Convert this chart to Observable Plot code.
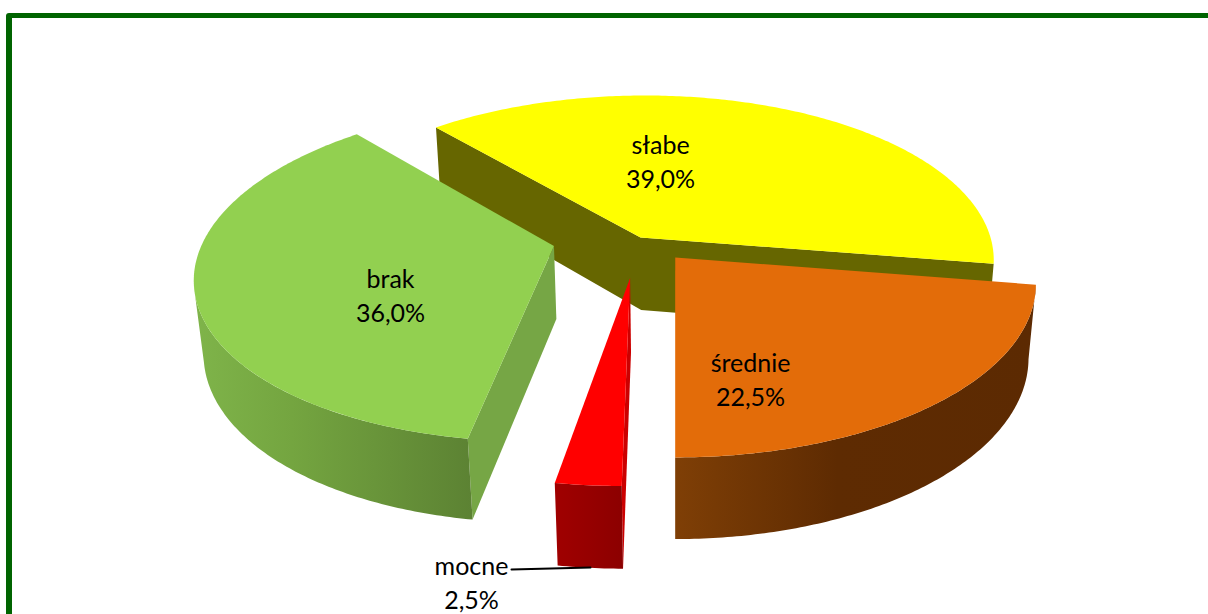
<!DOCTYPE html>
<html lang="pl">
<head>
<meta charset="utf-8">
<script src="https://cdn.jsdelivr.net/npm/d3@7"></script>
<script src="https://cdn.jsdelivr.net/npm/@observablehq/plot@0.6"></script>
<style>
  html, body { margin: 0; padding: 0; width: 1208px; height: 614px; overflow: hidden; background: #fff; }
  #frame { position: absolute; left: 6px; top: 13px; width: 1400px; height: 800px; border: 5.5px solid #006400; border-left-width: 6px; border-radius: 3px; }
  #chart { position: absolute; left: 0; top: 0; }
  svg { display: block; background: transparent !important; }
</style>
</head>
<body>
<div id="frame"></div>
<div id="chart"></div>
<script>
// Data
const names = ["słabe", "średnie", "mocne", "brak"];
const shares = [39.0, 22.5, 2.5, 36.0];

// Pie layout: explosion of each slice, in pie radii, and its direction in degrees
const explode = [0, 0.156, 0.24, 0.25];
const explodeDir = [0, 140.5, 186, 258];
const startAngle = -41.4;
const centerU = -0.1;
const perspective = 0.15, thickness = 0.453, depthShift = 0.02;
const greenSilhouette = 256;

// Styles
const topColors = ["#FFFF00", "#E36C09", "#FF0000", "#92D050"];
const wallColors = ["#666600", "#5C2A02", "#CC0000", "#76A645"];
const rimColors = ["#666600", "url(#rimOrange)", "url(#rimRed)", "url(#rimGreen)"];
const labelX = [660, 750, 471, 390];
const labelY = [160, 378, 581, 294];
const leaderX = [511, 590];
const leaderY = [569, 567];

// Plot scales: one unit = one pie radius (x) / projected radius (y)
const W = 1208, H = 614, originX = 675, originY = 237, unitX = 350, unitY = 163.3;
const toX = px => (px - originX) / unitX;
const toY = py => (py - originY) / unitY;

const rad = a => a * Math.PI / 180;
function project(U, V, low) {
  const w = 1 + perspective * V + (low ? depthShift : 0);
  return {x: U / w, y: (-V + (low ? thickness : 0)) / w};
}
function arc(s, a, b) {
  const n = Math.max(2, Math.ceil(Math.abs(b - a) * 1.5));
  return d3.range(n + 1).map(i => {
    const t = rad(a + (b - a) * i / n);
    return [s.U + Math.sin(t), s.V + Math.cos(t)];
  });
}

// Slice geometry from the shares
let acc = startAngle;
const slices = shares.map((v, i) => {
  const a = acc, b = acc + v * 3.6;
  acc = b;
  const dir = rad(explodeDir[i]);
  return {i, a, b, U: centerU + explode[i] * Math.sin(dir), V: explode[i] * Math.cos(dir)};
});

const face = (pts, fill) => Plot.line(pts, {x: "x", y: "y", fill, stroke: "none"});
const topFace = s => [[s.U, s.V], ...arc(s, s.a, s.b)].map(p => project(p[0], p[1], false));
const radialWall = (s, ang) => {
  const e = arc(s, ang, ang)[0];
  return [project(s.U, s.V, false), project(e[0], e[1], false), project(e[0], e[1], true), project(s.U, s.V, true)];
};
// Both cut faces of one slice, as a single outline
const cutWalls = s => {
  const l = arc(s, s.a, s.a)[0], r = arc(s, s.b, s.b)[0];
  return [project(l[0], l[1], false), project(s.U, s.V, false), project(r[0], r[1], false),
          project(r[0], r[1], true), project(s.U, s.V, true), project(l[0], l[1], true)];
};
const rimWall = (s, a, b) => {
  const pts = arc(s, a, b);
  return [...pts.map(p => project(p[0], p[1], false)), ...pts.slice().reverse().map(p => project(p[0], p[1], true))];
};

const [yellow, orange, red, green] = slices;
const gradient = (id, stops) =>
  `<linearGradient id="${id}" x1="0" x2="1" y1="0" y2="0">` +
  stops.map(([o, c]) => `<stop offset="${o}" stop-color="${c}"/>`).join("") + `</linearGradient>`;

const marks = [
  () => d3.create("svg:defs").html(
    gradient("rimGreen", [[0, "#7FB44A"], [0.35, "#74A540"], [1, "#5C8233"]]) +
    gradient("rimOrange", [[0, "#7F3F06"], [0.45, "#5E2B02"], [1, "#5C2A02"]]) +
    gradient("rimRed", [[0, "#A00000"], [1, "#8C0000"]])
  ).node(),
  // słabe
  face(cutWalls(yellow), wallColors[0]),
  face(topFace(yellow), topColors[0]),
  // średnie
  face(rimWall(orange, orange.a, orange.b), rimColors[1]),
  face(topFace(orange), topColors[1]),
  // mocne
  face(radialWall(red, red.a), wallColors[2]),
  face(rimWall(red, red.a, red.b), rimColors[2]),
  face(topFace(red), topColors[2]),
  // brak
  face(radialWall(green, green.a), wallColors[3]),
  face(rimWall(green, green.a, greenSilhouette), rimColors[3]),
  face(topFace(green), topColors[3]),
  // leader and labels
  Plot.line(leaderX.map((x, i) => ({x: toX(x), y: toY(leaderY[i])})), {x: "x", y: "y", stroke: "#000", strokeWidth: 2}),
  Plot.text(names.map((n, i) => ({
    text: `${n}\n${shares[i].toFixed(1).replace(".", ",")}%`,
    x: toX(labelX[i]), y: toY(labelY[i])
  })), {x: "x", y: "y", text: "text", fontSize: 25, lineHeight: 1.34, fill: "#000", fontFamily: "Lato"})
];

const chart = Plot.plot({
  width: W, height: H,
  marginTop: 0, marginRight: 0, marginBottom: 0, marginLeft: 0,
  x: {domain: [toX(0), toX(W)], range: [0, W], axis: null},
  y: {domain: [toY(0), toY(H)], range: [0, H], axis: null},
  marks
});
document.getElementById("chart").append(chart);
</script>
</body>
</html>
